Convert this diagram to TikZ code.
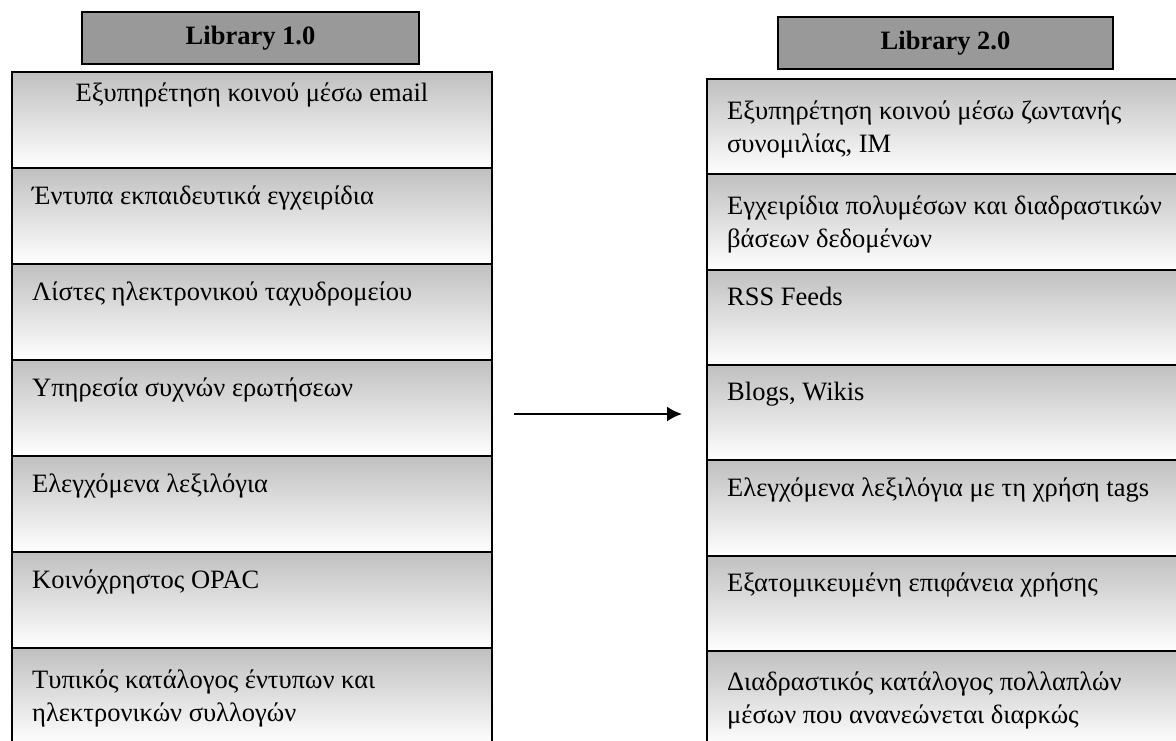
\documentclass[tikz,border=0pt]{standalone}
\usepackage{fontspec}
\setmainfont{Liberation Serif}
\usetikzlibrary{positioning,arrows.meta}

\definecolor{headgray}{HTML}{999999}
\definecolor{cellgray}{HTML}{C0C0C0}

\tikzset{
  libhead/.style={draw, line width=2pt, fill=headgray, minimum height=52pt, inner sep=0pt,
    font=\fontsize{26.5}{33}\selectfont\bfseries},
  libcell/.style={draw, line width=2pt, top color=cellgray, bottom color=white,
    minimum height=96pt, inner sep=0pt},
  celltext/.style={anchor=base west, align=left, inner sep=0pt,
    font=\fontsize{26.5}{33}\selectfont},
}

\begin{document}
\begin{tikzpicture}[x=1pt,y=-1pt]
\useasboundingbox (0,0) rectangle (1176,740);
\clip (0,0) rectangle (1176,740);

% headers
\node[libhead, minimum width=337pt] (headl) at (250.5,38) {Library 1.0};
\node[libhead, minimum width=335pt] (headr) at (945.5,43) {Library 2.0};

% Library 1.0 column (\n = lines of text)
\foreach \i/\n/\txt in {
    1/1/{},
    2/1/{Έντυπα εκπαιδευτικά εγχειρίδια},
    3/1/{Λίστες ηλεκτρονικού ταχυδρομείου},
    4/1/{Υπηρεσία συχνών ερωτήσεων},
    5/1/{Ελεγχόμενα λεξιλόγια},
    6/1/{Κοινόχρηστος OPAC},
    7/2/{Τυπικός κατάλογος έντυπων και\\ηλεκτρονικών συλλογών}} {
    \node[libcell, minimum width=480pt, anchor=north west] (l\i) at (11,{71+96*(\i-1)}) {};
    \node[celltext] (lt\i) at ([xshift=21pt,yshift={-37pt-37pt*(\n-1)}]l\i.north west) {\txt};
}
\node[celltext, anchor=base, align=center] (lt1c) at ([yshift=-30pt]l1.north) {Εξυπηρέτηση κοινού μέσω email};

% Library 2.0 column
\foreach \i/\n/\txt in {
    1/2/{Εξυπηρέτηση κοινού μέσω ζωντανής\\συνομιλίας, IM},
    2/2/{Εγχειρίδια πολυμέσων και διαδραστικών\\βάσεων δεδομένων},
    3/1/{RSS Feeds},
    4/1/{Blogs, Wikis},
    5/1/{Ελεγχόμενα λεξιλόγια με τη χρήση tags},
    6/1/{Εξατομικευμένη επιφάνεια χρήσης},
    7/2/{Διαδραστικός κατάλογος πολλαπλών\\μέσων που ανανεώνεται διαρκώς}} {
    \node[libcell, minimum width=484pt, anchor=north west] (r\i) at (706,{78+95.3*(\i-1)}) {};
    \node[celltext] (rt\i) at ([xshift=21pt,yshift={-37pt-37pt*(\n-1)}]r\i.north west) {\txt};
}

% arrow between the columns
\coordinate (arrfrom) at (514,414);
\coordinate (arrto) at (682,414);
\draw[line width=2pt,-{Latex[length=15pt,width=15pt]}] (arrfrom) -- (arrto);
\end{tikzpicture}
\end{document}
